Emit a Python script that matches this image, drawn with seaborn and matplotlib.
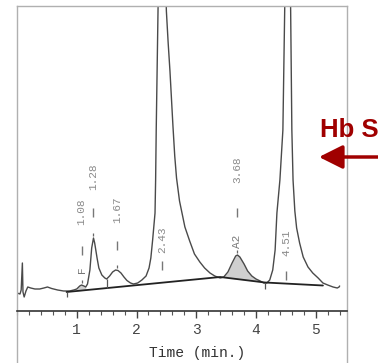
import matplotlib
matplotlib.use('Agg')
import matplotlib.pyplot as plt
import seaborn as sns
import numpy as np
import pandas as pd
from matplotlib.ticker import MultipleLocator

# Chromatogram trace (time in min, signal in arbitrary units)
time = [0.00, 0.05, 0.07, 0.09, 0.10, 0.12, 0.15, 0.18, 0.23, 0.30, 0.38, 0.45,
        0.51, 0.58, 0.68, 0.78, 0.88, 0.95, 1.00, 1.05, 1.08, 1.12, 1.15, 1.18,
        1.22, 1.25, 1.28, 1.30, 1.34, 1.37, 1.42, 1.47, 1.50, 1.55, 1.60, 1.65,
        1.69, 1.74, 1.79, 1.84, 1.90, 1.95, 2.02, 2.09, 2.16, 2.21, 2.24, 2.27,
        2.31, 2.32, 2.33, 2.36, 2.42, 2.50, 2.53, 2.56, 2.61, 2.64, 2.67, 2.72,
        2.81, 2.89, 2.97, 3.06, 3.14, 3.23, 3.31, 3.40, 3.46, 3.53, 3.60, 3.66,
        3.69, 3.73, 3.80, 3.86, 3.93, 4.00, 4.07, 4.13, 4.18, 4.23, 4.28, 4.32,
        4.35, 4.40, 4.45, 4.48, 4.53, 4.58, 4.60, 4.62, 4.65, 4.68, 4.73, 4.79,
        4.87, 4.95, 5.04, 5.12, 5.20, 5.29, 5.36, 5.39, 5.40]
signal = [18, 17, 21, 48, 19, 14, 20, 24, 23, 22, 22, 23,
          24, 22.5, 21, 20, 20, 21, 22, 25, 26, 25, 24, 27,
          41, 63, 73, 68, 53, 43, 36, 33, 32, 35, 39, 41,
          40.5, 38, 34, 30.5, 28, 27, 28, 31, 35, 43, 53, 71,
          98, 131, 181, 300, 520, 300, 268, 240, 185, 155, 133, 110,
          84, 70, 57, 49, 43, 38, 35, 33, 34, 39, 48, 55,
          56, 54, 47, 40, 35, 32, 30, 28, 28, 31, 41, 61,
          98, 131, 181, 300, 520, 300, 181, 131, 100, 83, 68, 54,
          44, 38, 33, 28, 26, 24, 23, 24, 25]

# integration baseline
base_time = [0.83, 3.40, 4.15, 5.12]
base_signal = [19, 34, 28.5, 25.5]

# peak labels
peak_rt = [1.08, 1.28, 1.67, 2.43, 3.68, 4.51]
peak_label = ['1.08', '1.28', '1.67', '2.43', '3.68', '4.51']
peak_name = ['F', '', '', '', 'A2', '']
apex = [26, 73, 41, None, 56, None]
dash_y = [56, 94, 61, 41, 94, 31]
label_y = [86, 121, 88, 58, 128, 55]
name_y = [38, None, None, None, 63, None]

# drop / start-end markers
marker_t = [0.83, 1.50, 4.15]
marker_lo = [14, 23, 22]
marker_hi = [19, 32, 28]

df = pd.DataFrame({'time': time, 'signal': signal})
df_base = pd.DataFrame({'time': base_time, 'signal': base_signal})

sns.set_theme(style='white')
plt.rcParams['font.family'] = ['Liberation Mono', 'DejaVu Sans']

fig = plt.figure(figsize=(3.78, 3.63), dpi=100)
ax = fig.add_axes([17 / 378, 0, 330 / 378, 357 / 363])

# shaded peaks (A2 and F)
t = np.array(time)
s = np.array(signal)
b = np.interp(t, base_time, base_signal)
a2 = (t >= 3.40) & (t <= 4.15)
ax.fill_between(t[a2], b[a2], s[a2], color='#cfcfcf', lw=0)
f = (t >= 0.98) & (t <= 1.16)
ax.fill_between(t[f], b[f], s[f], color='#cfcfcf', lw=0)

sns.lineplot(data=df, x='time', y='signal', ax=ax, color='#4a4a4a', lw=1.0,
             sort=False, estimator=None)
sns.lineplot(data=df_base, x='time', y='signal', ax=ax, color='#222222', lw=1.3,
             sort=False, estimator=None)

ax.vlines(marker_t, marker_lo, marker_hi, color='#555555', lw=0.9)

# peak annotations: apex tick, dash and rotated retention time
for rt, lab, nm, ap, dy, ly, ny in zip(peak_rt, peak_label, peak_name, apex,
                                        dash_y, label_y, name_y):
    if ap is not None:
        ax.vlines(rt, ap + 2, ap + 5, color='#666666', lw=0.9)
    ax.vlines(rt, dy, dy + 9, color='#777777', lw=1.0)
    ax.text(rt, ly, lab, rotation=90, ha='center', va='bottom', fontsize=8,
            color='#8a8a8a')
    if nm:
        ax.text(rt, ny, nm, rotation=90, ha='center', va='bottom', fontsize=8,
                color='#777777')

ax.set_xlim(0, 5.523)
ax.set_ylim(-52, 305)
ax.set_xticks([1, 2, 3, 4, 5])
ax.xaxis.set_minor_locator(MultipleLocator(0.2))
ax.set_yticks([])
ax.set_xlabel('')
ax.set_ylabel('')

ax.spines['bottom'].set_position(('data', 0))
ax.spines['bottom'].set_color('#333333')
ax.spines['bottom'].set_linewidth(1.2)
for side in ['left', 'right', 'top']:
    ax.spines[side].set_color('#b0b0b0')
    ax.spines[side].set_linewidth(1.0)

ax.tick_params(axis='x', which='major', direction='out', length=5, width=1,
               color='#444444', labelsize=10.5, labelcolor='#444444', pad=4,
               bottom=True)
ax.tick_params(axis='x', which='minor', direction='out', length=3, width=0.8,
               color='#555555', bottom=True)

fig.text(197 / 378, 1 - 353 / 363, 'Time (min.)', ha='center', va='center',
         fontsize=10.5, color='#333333')

# Hb S callout
fig.text(320 / 378, 1 - 137 / 363, 'Hb S', ha='left', va='baseline',
         fontsize=18.5, fontweight='bold', color='#a00000',
         family=['Liberation Sans', 'DejaVu Sans'])
ax.annotate('', xy=(319, 363 - 157), xytext=(385, 363 - 157),
            xycoords='figure pixels', textcoords='figure pixels',
            arrowprops=dict(arrowstyle='-|>,head_length=0.9,head_width=0.45',
                            color='#a00000', lw=2.5, mutation_scale=16,
                            shrinkA=0, shrinkB=0),
            annotation_clip=False)

fig.savefig('out.png', dpi=100)
